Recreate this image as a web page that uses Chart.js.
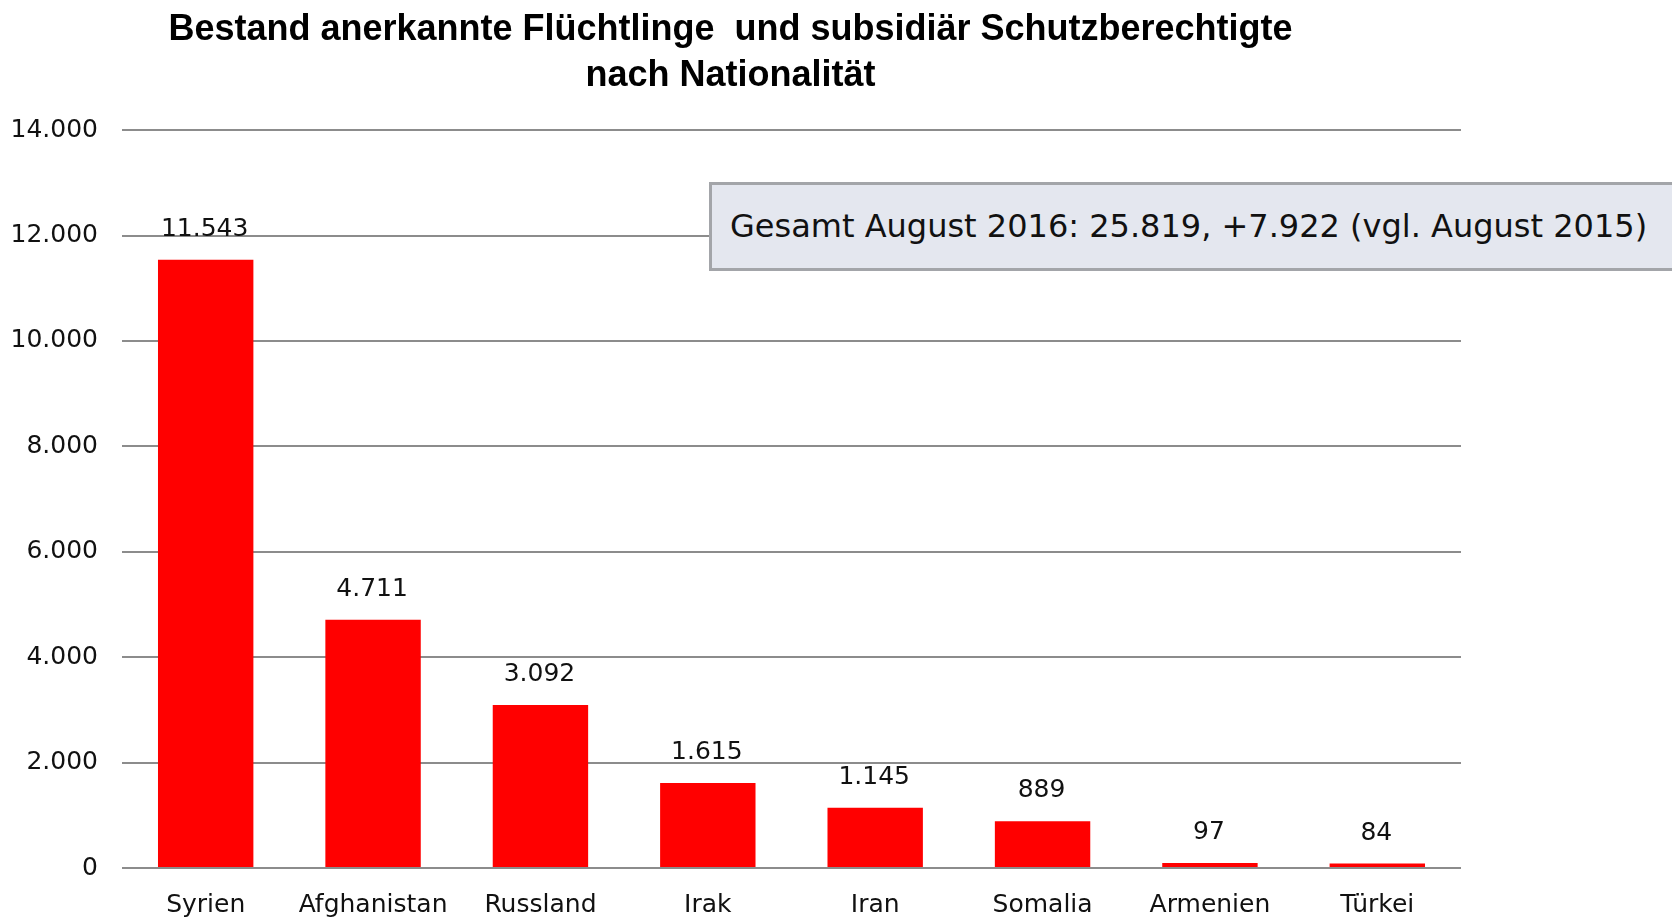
<!DOCTYPE html>
<html>
<head>
<meta charset="utf-8">
<script src="https://cdn.jsdelivr.net/npm/chart.js@4/dist/chart.umd.min.js"></script>
<style>
  html, body { margin: 0; padding: 0; background: #fff; }
  #wrap { position: relative; width: 1672px; height: 917px; overflow: hidden; }
  #note {
    position: absolute; left: 709px; top: 182px; width: 980px; height: 83px;
    background: #e4e7ef; border: 3px solid #a3a5a9; box-sizing: content-box;
    font-family: "DejaVu Sans", sans-serif; font-size: 32px; color: #111;
    line-height: 83px; padding-left: 18px;
  }
</style>
</head>
<body>
<div id="wrap">
  <canvas id="myChart" width="1672" height="917"></canvas>
  <div id="note">Gesamt August 2016: 25.819, +7.922 (vgl. August 2015)</div>
</div>
<script>
const chartEle = document.getElementById('myChart')

// values
let countries = ['Syrien', 'Afghanistan', 'Russland', 'Irak', 'Iran', 'Somalia', 'Armenien', 'Türkei']
let bestand = [11543, 4711, 3092, 1615, 1145, 889, 97, 84]
let yTicks = [0, 2000, 4000, 6000, 8000, 10000, 12000, 14000]

// 11543 -> "11.543"
function fmt(v){
    return String(v).replace(/\B(?=(\d{3})+(?!\d))/g, '.')
}

// small value-label plugin, draws the number above each bar
const valueLabels = {
    id: 'valueLabels',
    afterDatasetsDraw(chart){
        const ctx = chart.ctx
        const meta = chart.getDatasetMeta(0)
        ctx.save()
        ctx.font = '25px "DejaVu Sans"'
        ctx.fillStyle = '#111'
        ctx.textAlign = 'center'
        ctx.textBaseline = 'alphabetic'
        meta.data.forEach((bar, i) => {
            ctx.fillText(fmt(bestand[i]), bar.x - 1, bar.y - 24)
        })
        ctx.restore()
    }
}

let config = {
    type: 'bar',
    data: {
        labels: countries,
        datasets: [{
            data: bestand,
            backgroundColor: '#ff0000',
            borderWidth: 0,
            barPercentage: 0.57,
            categoryPercentage: 1.0,
        }]
    },
    options: {
        responsive: false,
        animation: false,
        layout: { padding: { left: 0, right: 211, top: 0, bottom: 0 } },
        plugins: {
            legend: { display: false },
            tooltip: { enabled: false },
            title: {
                display: true,
                text: ['Bestand anerkannte Flüchtlinge  und subsidiär Schutzberechtigte', 'nach Nationalität'],
                color: '#000',
                font: { family: 'Liberation Sans', size: 36, weight: 'bold', lineHeight: 1.28 },
                padding: { top: 7, bottom: 31 },
            },
        },
        scales: {
            x: {
                grid: { display: false },
                border: { display: false },
                afterFit(axis){ axis.height = 49 },
                ticks: {
                    color: '#111',
                    font: { family: 'DejaVu Sans', size: 25 },
                    padding: 14,
                    maxRotation: 0,
                },
            },
            y: {
                min: 0,
                max: 14000,
                afterBuildTicks(axis){
                    axis.ticks = yTicks.map(v => ({ value: v }))
                },
                afterFit(axis){ axis.width = 122 },
                grid: { color: '#8c8c8c', lineWidth: 2, drawTicks: false },
                border: { display: false },
                ticks: {
                    color: '#111',
                    font: { family: 'DejaVu Sans', size: 25 },
                    padding: 24,
                    callback: v => fmt(v),
                },
            },
        },
    },
    plugins: [valueLabels],
}

const chart = new Chart(chartEle, config)
</script>
</body>
</html>
